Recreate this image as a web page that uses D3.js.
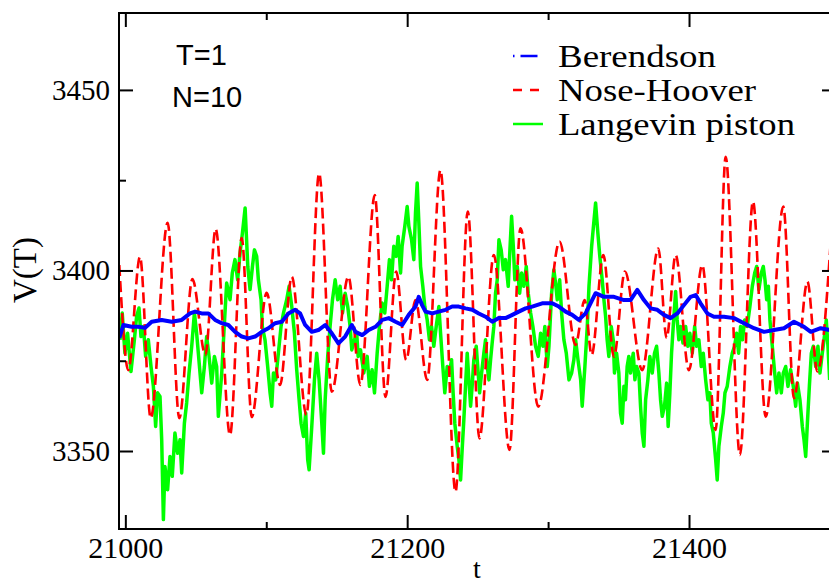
<!DOCTYPE html>
<html>
<head>
<meta charset="utf-8">
<script src="https://cdn.jsdelivr.net/npm/d3@7"></script>
<style>
body { margin: 0; background: #fff; }
svg { display: block; }
</style>
</head>
<body>
<div id="chart"></div>
<script>
// series: [t, V(T)]
const berendson = [[20995.7,3381.3],[20998.6,3384.9],[21004.5,3384.4],[21009.2,3384.4],[21014.0,3384.1],[21018.7,3385.8],[21025.8,3386.3],[21032.9,3385.8],[21040.0,3386.3],[21045.9,3388.1],[21049.5,3388.6],[21054.2,3388.1],[21058.9,3388.1],[21063.7,3386.3],[21068.4,3385.4],[21073.1,3384.9],[21077.9,3383.0],[21082.6,3381.7],[21087.3,3381.2],[21092.1,3381.7],[21096.8,3383.0],[21101.5,3384.0],[21106.3,3385.4],[21111.0,3385.8],[21115.7,3388.1],[21120.5,3389.1],[21124.0,3388.1],[21127.6,3384.9],[21132.3,3383.0],[21137.0,3383.5],[21141.8,3384.9],[21146.5,3382.6],[21151.2,3379.8],[21156.0,3381.7],[21160.7,3384.9],[21163.3,3383.0],[21168.1,3382.1],[21172.7,3383.5],[21177.5,3384.4],[21182.3,3386.3],[21186.9,3386.8],[21191.7,3385.8],[21196.5,3384.9],[21201.1,3387.7],[21205.9,3390.0],[21208.2,3392.7],[21210.6,3390.4],[21213.0,3388.6],[21217.8,3388.1],[21222.4,3388.6],[21227.2,3389.1],[21231.9,3390.0],[21236.6,3390.0],[21241.4,3389.5],[21246.2,3389.1],[21250.8,3388.1],[21255.6,3387.2],[21260.4,3385.8],[21265.0,3386.8],[21269.8,3386.8],[21274.6,3387.7],[21279.2,3388.6],[21284.0,3389.5],[21288.7,3390.0],[21295.8,3390.9],[21302.9,3390.9],[21307.6,3390.0],[21312.4,3388.6],[21317.1,3387.7],[21321.8,3386.3],[21326.6,3388.1],[21330.1,3390.9],[21333.7,3393.7],[21339.6,3392.7],[21346.7,3392.7],[21353.8,3391.8],[21358.5,3391.8],[21363.3,3394.6],[21368.0,3391.8],[21372.7,3389.5],[21377.5,3389.1],[21382.2,3387.7],[21386.9,3386.8],[21391.7,3388.1],[21396.4,3390.4],[21401.1,3392.7],[21404.7,3393.2],[21408.2,3390.9],[21413.0,3388.1],[21417.7,3387.2],[21424.8,3387.2],[21431.9,3386.8],[21439.0,3385.4],[21446.1,3384.0],[21453.2,3383.0],[21460.3,3383.5],[21467.4,3384.0],[21474.5,3385.8],[21481.6,3384.4],[21486.4,3383.0],[21493.4,3384.0],[21500.0,3383.5]];

const noseHoover = [[20995.7,3401.5],[21002.1,3372.4],[21010.4,3403.8],[21018.0,3359.1],[21030.0,3413.2],[21038.3,3359.1],[21047.6,3397.6],[21056.8,3376.6],[21064.1,3411.5],[21074.3,3354.4],[21082.6,3409.0],[21089.7,3359.4],[21100.3,3393.8],[21109.8,3368.3],[21118.1,3398.3],[21128.5,3360.0],[21137.5,3426.9],[21146.5,3366.4],[21158.3,3398.3],[21166.8,3368.3],[21177.0,3420.9],[21184.6,3365.0],[21192.2,3399.7],[21199.3,3375.2],[21205.9,3391.8],[21214.2,3369.7],[21223.6,3427.8],[21234.3,3338.7],[21243.0,3416.3],[21251.3,3353.5],[21261.5,3404.3],[21272.6,3350.3],[21280.4,3411.7],[21293.0,3362.3],[21308.1,3408.0],[21319.5,3379.4],[21325.9,3391.8],[21330.9,3376.6],[21339.2,3404.3],[21346.7,3376.1],[21354.5,3399.7],[21366.8,3372.4],[21378.2,3406.1],[21384.1,3381.3],[21390.5,3404.3],[21399.9,3372.4],[21409.4,3401.5],[21418.9,3355.8],[21426.0,3431.5],[21436.1,3348.9],[21445.4,3419.1],[21454.4,3359.5],[21466.9,3417.7],[21474.5,3364.6],[21484.0,3396.9],[21491.1,3372.0],[21500.5,3407.6]];

const langevin = [[20996.2,3380.8],[20997.8,3388.2],[20999.7,3377.1],[21001.6,3382.6],[21004.0,3372.0],[21006.4,3380.8],[21008.0,3387.3],[21009.7,3389.6],[21011.1,3381.7],[21012.8,3384.5],[21014.4,3376.2],[21016.3,3380.8],[21018.2,3373.4],[21019.9,3367.9],[21021.5,3356.8],[21022.9,3366.1],[21024.6,3365.1],[21025.8,3353.1],[21027.0,3331.0],[21028.1,3345.7],[21030.0,3339.3],[21031.7,3348.5],[21033.3,3343.0],[21035.2,3355.0],[21037.1,3349.4],[21038.8,3353.1],[21040.0,3343.9],[21041.9,3357.7],[21043.5,3363.3],[21045.2,3371.6],[21047.1,3379.0],[21049.0,3388.2],[21050.6,3382.6],[21051.8,3377.1],[21053.0,3371.6],[21054.2,3366.1],[21056.1,3373.4],[21057.7,3381.7],[21059.4,3376.2],[21061.3,3368.8],[21063.2,3376.2],[21064.8,3373.4],[21066.0,3359.6],[21068.4,3371.6],[21070.3,3385.4],[21071.9,3396.5],[21074.3,3391.9],[21075.9,3399.3],[21077.8,3403.0],[21079.7,3397.4],[21081.4,3404.8],[21083.1,3410.4],[21085.0,3417.3],[21086.9,3401.1],[21088.5,3394.7],[21090.2,3401.1],[21091.6,3405.7],[21093.2,3403.9],[21094.4,3397.4],[21096.3,3391.9],[21097.2,3384.5],[21099.1,3380.8],[21101.0,3373.4],[21102.7,3366.1],[21103.9,3362.4],[21105.1,3371.6],[21106.7,3369.7],[21108.6,3377.1],[21110.5,3384.5],[21112.2,3388.2],[21114.5,3391.9],[21116.2,3395.6],[21118.1,3390.0],[21120.0,3382.6],[21121.6,3372.5],[21123.3,3364.2],[21124.7,3357.7],[21126.4,3354.0],[21128.0,3360.5],[21129.4,3347.6],[21130.4,3344.8],[21132.3,3356.8],[21134.2,3369.7],[21135.8,3377.1],[21137.5,3369.7],[21139.4,3357.7],[21140.6,3349.4],[21141.8,3364.2],[21143.6,3376.2],[21145.3,3384.5],[21147.0,3391.9],[21148.9,3397.4],[21150.7,3391.9],[21152.4,3395.6],[21154.1,3388.2],[21156.0,3393.7],[21157.8,3390.0],[21159.5,3384.5],[21160.7,3378.0],[21162.6,3380.8],[21164.2,3382.6],
[21165.2,3376.2],[21166.9,3378.0],[21169.2,3371.6],[21171.6,3376.2],[21173.2,3367.9],[21175.1,3372.5],[21176.8,3366.1],[21178.7,3377.1],[21180.3,3384.5],[21182.2,3391.0],[21184.1,3388.2],[21185.8,3395.6],[21187.4,3403.0],[21188.9,3397.4],[21190.5,3406.7],[21192.2,3403.9],[21193.6,3409.4],[21195.3,3399.3],[21196.4,3406.7],[21198.3,3412.2],[21200.0,3417.7],[21201.2,3412.2],[21203.1,3408.5],[21204.7,3403.0],[21205.9,3415.9],[21207.1,3424.2],[21208.3,3413.1],[21209.5,3401.1],[21211.1,3395.6],[21212.5,3390.0],[21214.2,3386.3],[21215.8,3380.8],[21217.3,3384.5],[21218.9,3379.0],[21220.6,3384.5],[21222.5,3390.0],[21223.7,3382.6],[21225.3,3373.4],[21226.7,3366.1],[21228.4,3373.4],[21230.0,3371.6],[21231.5,3375.3],[21232.6,3366.1],[21233.8,3357.7],[21235.5,3351.3],[21236.7,3347.6],[21237.9,3342.0],[21239.0,3350.3],[21240.2,3358.6],[21241.4,3367.9],[21242.6,3377.1],[21243.8,3369.7],[21245.0,3362.4],[21246.1,3367.9],[21247.3,3375.3],[21249.0,3379.0],[21250.4,3371.6],[21251.4,3366.1],[21252.8,3371.6],[21254.4,3377.1],[21255.6,3380.8],[21256.8,3373.4],[21258.0,3369.7],[21259.2,3375.3],[21260.3,3379.9],[21261.5,3384.5],[21262.7,3393.7],[21263.9,3397.4],[21265.1,3408.5],[21266.7,3405.7],[21268.2,3400.2],[21269.8,3403.0],[21271.7,3395.6],[21272.9,3405.7],[21274.1,3415.0],[21275.3,3406.7],[21276.4,3397.4],[21278.1,3401.1],[21279.8,3393.7],[21281.2,3399.3],[21282.8,3395.6],[21284.5,3401.1],[21285.9,3393.7],[21287.6,3388.2],[21289.2,3384.5],[21291.1,3379.0],[21293.0,3376.2],[21294.7,3382.6],[21296.3,3379.0],[21297.7,3384.5],[21299.4,3373.4],[21300.6,3379.0],[21302.5,3393.7],[21304.1,3400.2],[21305.3,3396.5],[21306.5,3391.9],[21308.2,3397.4],[21309.6,3388.2],[21311.2,3380.8],[21312.9,3377.1],[21314.8,3369.7],[21316.7,3371.6],[21318.3,3375.3],[21319.5,3380.8],[21321.2,3375.3],[21323.1,3369.7],[21324.2,3362.4],[21326.1,3373.4],[21327.8,3384.5],[21329.0,3395.6],[21330.9,3406.7],
[21333.7,3418.7],[21335.3,3410.4],[21336.7,3403.9],[21338.4,3397.4],[21339.6,3391.9],[21340.8,3387.3],[21341.9,3380.8],[21343.1,3376.2],[21344.8,3384.5],[21346.2,3380.8],[21347.1,3371.6],[21348.6,3377.1],[21350.2,3371.6],[21351.4,3360.5],[21352.6,3357.7],[21353.8,3367.9],[21354.9,3364.2],[21356.1,3373.4],[21357.3,3376.2],[21358.5,3371.6],[21360.4,3377.1],[21361.6,3369.7],[21362.8,3373.4],[21364.4,3371.6],[21365.6,3362.4],[21366.8,3355.0],[21368.0,3351.3],[21369.2,3364.2],[21370.8,3369.7],[21372.2,3376.2],[21373.9,3371.6],[21375.5,3377.1],[21377.0,3379.0],[21378.6,3371.6],[21379.8,3364.2],[21381.0,3359.6],[21382.6,3362.4],[21384.1,3368.8],[21385.2,3356.8],[21386.4,3366.1],[21387.6,3377.1],[21388.8,3384.5],[21390.5,3394.2],[21391.6,3386.3],[21392.8,3380.8],[21394.0,3384.5],[21395.7,3379.9],[21397.6,3384.5],[21399.2,3379.0],[21400.6,3382.6],[21402.3,3377.1],[21404.0,3384.5],[21405.4,3379.0],[21407.0,3380.8],[21408.7,3373.4],[21410.1,3377.1],[21411.8,3369.7],[21413.4,3364.2],[21414.8,3366.1],[21415.8,3357.7],[21417.2,3355.0],[21418.9,3347.6],[21420.0,3342.0],[21421.2,3351.3],[21422.9,3356.8],[21424.3,3360.5],[21425.5,3366.1],[21427.1,3367.9],[21429.0,3373.4],[21430.7,3377.1],[21432.3,3379.0],[21433.8,3382.6],[21435.2,3377.1],[21436.6,3384.5],[21438.0,3380.8],[21439.5,3386.3],[21441.3,3384.5],[21443.2,3390.0],[21444.9,3395.6],[21446.6,3399.3],[21448.0,3401.1],[21449.6,3394.7],[21451.3,3399.3],[21452.7,3401.1],[21453.9,3397.4],[21455.1,3391.9],[21456.3,3395.6],[21457.4,3386.3],[21459.1,3379.0],[21460.8,3371.6],[21462.2,3366.1],[21463.8,3371.6],[21465.5,3366.1],[21466.9,3371.6],[21468.6,3373.4],[21470.2,3367.9],[21472.1,3372.5],[21474.0,3367.9],[21475.7,3362.4],[21476.9,3368.8],[21478.7,3364.2],[21480.4,3356.8],[21481.6,3353.1],[21482.8,3348.5],[21484.0,3357.7],[21485.4,3367.9],[21486.8,3377.1],[21488.2,3379.0],[21489.9,3373.4],[21491.5,3379.0],[21492.9,3371.6],[21494.6,3377.1],[21495.8,3380.8],[21497.4,3386.3],[21498.6,3379.0],[21499.8,3369.7]];

const seriesNames = ['Berendson', 'Nose-Hoover', 'Langevin piston'];
const xMajor = [21000, 21200, 21400];
const xMinor = [21100, 21300, 21500];
const yMajor = [3350, 3400, 3450];
const yMinor = [3375, 3425];
const notes = ['T=1', 'N=10'];

const width = 829;
const height = 586;
const plotLeft = 119, plotRight = 836, plotTop = 13, plotBottom = 529;

const svg = d3.select('#chart')
  .append('svg')
  .attr('width', width)
  .attr('height', height);

const x = d3.scaleLinear().domain([20995.5, 21504.3]).range([plotLeft, plotRight]);
const y = d3.scaleLinear().domain([3328.4, 3471.3]).range([plotBottom, plotTop]);

const serif = '"Liberation Serif", "Times New Roman", serif';
const sans = '"Liberation Sans", Arial, sans-serif';

svg.append('defs').append('clipPath').attr('id', 'plotClip')
  .append('rect')
  .attr('x', plotLeft).attr('y', plotTop)
  .attr('width', plotRight - plotLeft).attr('height', plotBottom - plotTop);

const plot = svg.append('g').attr('clip-path', 'url(#plotClip)');

const lineLinear = d3.line().x(d => x(d[0])).y(d => y(d[1]));
const lineSmooth = d3.line().x(d => x(d[0])).y(d => y(d[1])).curve(d3.curveMonotoneX);

// green under red under blue
plot.append('path')
  .datum(langevin)
  .attr('d', lineLinear)
  .attr('fill', 'none')
  .attr('stroke', '#00ff00')
  .attr('stroke-width', 3.5)
  .attr('stroke-linejoin', 'round');

plot.append('path')
  .datum(noseHoover)
  .attr('d', lineSmooth)
  .attr('fill', 'none')
  .attr('stroke', '#ff0000')
  .attr('stroke-width', 2.6)
  .attr('stroke-dasharray', '11,5');

plot.append('path')
  .datum(berendson)
  .attr('d', lineLinear)
  .attr('fill', 'none')
  .attr('stroke', '#0000ff')
  .attr('stroke-width', 4)
  .attr('stroke-linejoin', 'round');

// axes, ticks pointing inward on all four sides
function styleAxis(g, fontSize) {
  g.select('.domain').remove();
  g.selectAll('.tick line').attr('stroke', '#000').attr('stroke-width', 2);
  g.selectAll('.tick text')
    .attr('fill', '#000')
    .style('font-family', serif)
    .style('font-size', fontSize + 'px');
}

svg.append('g')
  .attr('transform', `translate(0,${plotBottom})`)
  .call(d3.axisBottom(x).tickValues(xMajor).tickFormat(d3.format('d'))
    .tickSizeInner(-14).tickSizeOuter(0).tickPadding(8))
  .call(g => styleAxis(g, 30));

svg.append('g')
  .attr('transform', `translate(0,${plotBottom})`)
  .call(d3.axisBottom(x).tickValues(xMinor).tickFormat('')
    .tickSizeInner(-7).tickSizeOuter(0))
  .call(g => styleAxis(g, 30));

svg.append('g')
  .attr('transform', `translate(0,${plotTop})`)
  .call(d3.axisTop(x).tickValues(xMajor).tickFormat('')
    .tickSizeInner(-14).tickSizeOuter(0))
  .call(g => styleAxis(g, 30));

svg.append('g')
  .attr('transform', `translate(0,${plotTop})`)
  .call(d3.axisTop(x).tickValues(xMinor).tickFormat('')
    .tickSizeInner(-7).tickSizeOuter(0))
  .call(g => styleAxis(g, 30));

svg.append('g')
  .attr('transform', `translate(${plotLeft},0)`)
  .call(d3.axisLeft(y).tickValues(yMajor).tickFormat(d3.format('d'))
    .tickSizeInner(-14).tickSizeOuter(0).tickPadding(9))
  .call(g => styleAxis(g, 29));

svg.append('g')
  .attr('transform', `translate(${plotLeft},0)`)
  .call(d3.axisLeft(y).tickValues(yMinor).tickFormat('')
    .tickSizeInner(-7).tickSizeOuter(0))
  .call(g => styleAxis(g, 29));

svg.append('g')
  .attr('transform', `translate(${plotRight},0)`)
  .call(d3.axisRight(y).tickValues(yMajor).tickFormat('')
    .tickSizeInner(-14).tickSizeOuter(0))
  .call(g => styleAxis(g, 29));

svg.append('g')
  .attr('transform', `translate(${plotRight},0)`)
  .call(d3.axisRight(y).tickValues(yMinor).tickFormat('')
    .tickSizeInner(-7).tickSizeOuter(0))
  .call(g => styleAxis(g, 29));

// frame
svg.append('rect')
  .attr('x', plotLeft).attr('y', plotTop)
  .attr('width', plotRight - plotLeft).attr('height', plotBottom - plotTop)
  .attr('fill', 'none')
  .attr('stroke', '#000')
  .attr('stroke-width', 2);

// axis titles
svg.append('text')
  .attr('transform', 'translate(36,270) rotate(-90)')
  .attr('text-anchor', 'middle')
  .style('font-family', serif)
  .style('font-size', '33px')
  .text('V(T)');

svg.append('text')
  .attr('x', 477).attr('y', 578)
  .attr('text-anchor', 'middle')
  .style('font-family', serif)
  .style('font-size', '28px')
  .text('t');

// annotations
svg.selectAll('.note')
  .data(notes)
  .enter()
  .append('text')
  .attr('class', 'note')
  .attr('x', (d, i) => i === 0 ? 176 : 172)
  .attr('y', (d, i) => 65 + i * 42)
  .style('font-family', sans)
  .style('font-size', '29px')
  .text(d => d);

// legend
const legendStyles = [
  { color: '#0000ff', dash: '1.5,6,17,100', width: 2.5, textWidth: 158 },
  { color: '#ff0000', dash: '9,8', width: 2.5, textWidth: 198 },
  { color: '#00ff00', dash: null, width: 2.5, textWidth: 237 }
];

const legend = svg.append('g').attr('class', 'legend');
seriesNames.forEach((name, i) => {
  const ly = 56 + i * 34;
  const item = legend.append('g').attr('transform', `translate(0,${ly})`);
  item.append('line')
    .attr('x1', 513).attr('x2', 543)
    .attr('y1', 0).attr('y2', 0)
    .attr('stroke', legendStyles[i].color)
    .attr('stroke-width', legendStyles[i].width)
    .attr('stroke-dasharray', legendStyles[i].dash);
  item.append('text')
    .attr('x', 558).attr('y', 11)
    .attr('textLength', legendStyles[i].textWidth)
    .attr('lengthAdjust', 'spacingAndGlyphs')
    .style('font-family', serif)
    .style('font-size', '31px')
    .text(name);
});
</script>
</body>
</html>
